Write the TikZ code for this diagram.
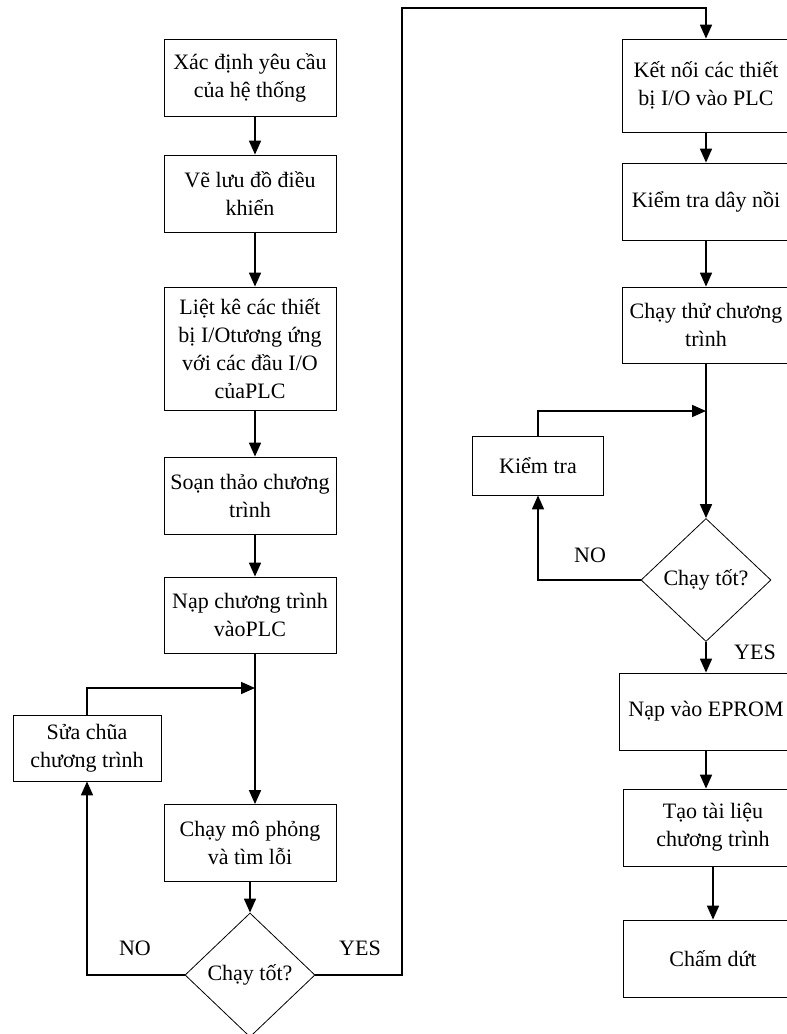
\documentclass[tikz,border=0pt]{standalone}
\usepackage{fontspec}
\setmainfont{Liberation Serif}
\usetikzlibrary{arrows.meta,shapes.geometric}

\tikzset{
  box/.style={draw, line width=0.8pt, align=center, inner sep=2pt,
    minimum width=172pt, minimum height=77pt},
  decision/.style={draw, diamond, line width=0.8pt, inner sep=0pt,
    minimum width=130pt, minimum height=124pt},
  flow/.style={->, line width=1.7pt},
  lbl/.style={inner sep=0pt}
}

\begin{document}
\begin{tikzpicture}[x=1pt, y=-1pt, >={Triangle[length=14pt,width=12pt]},
    font=\fontsize{22}{28}\selectfont]
            \useasboundingbox (0,0) rectangle (787,1034);
            % left column
            \node[box] (req) at (250, 78) {Xác định yêu cầu\\của hệ thống};
            \node[box] (chart) at (250, 193.5) {Vẽ lưu đồ điều\\khiển};
            \node[box, minimum height=123pt] (list) at (250, 348.5) {Liệt kê các thiết\\bị I/Otương ứng\\với các đầu I/O\\củaPLC};
            \node[box] (write) at (250, 495.5) {Soạn thảo chương\\trình};
            \node[box, minimum height=76pt] (load) at (250, 615) {Nạp chương trình\\vàoPLC};
            \node[box, minimum width=148pt, minimum height=66pt] (fix) at (87, 748) {Sửa chũa\\chương trình};
            \node[box] (sim) at (250, 843) {Chạy mô phỏng\\và tìm lỗi};
            \node[decision] (good1) at (250, 975) {Chạy tốt?};
            \coordinate (spineL) at (255, 0);
            \coordinate (joinL) at (255, 688);
            \coordinate (topL) at (402, 8);
            % right column
            \node[box, minimum width=168pt, minimum height=93pt] (wire) at (706, 85.5) {Kết nối các thiết\\bị I/O vào PLC};
            \node[box, minimum width=168pt] (check) at (706, 201.5) {Kiểm tra dây nồi};
            \node[box, minimum width=168pt, minimum height=76pt] (trial) at (706, 325) {Chạy thử chương\\trình};
            \node[box, minimum width=131pt, minimum height=59pt] (test) at (538, 465.5) {Kiểm tra};
            \node[decision, minimum height=123pt] (good2) at (706, 580) {Chạy tốt?};
            \node[box, minimum width=174pt] (eprom) at (706, 711.5) {Nạp vào EPROM};
            \node[box, minimum width=180pt] (docs) at (713, 827.5) {Tạo tài liệu\\chương trình};
            \node[box, minimum width=180pt] (stop) at (713, 958.5) {Chấm dứt};
            \coordinate (joinR) at (706, 411);
            % labels
            \node[lbl] (noL) at (135, 948) {NO};
            \node[lbl] (yesL) at (360, 948) {YES};
            \node[lbl] (noR) at (590, 555) {NO};
            \node[lbl] (yesR) at (755, 652) {YES};
            % connectors
            \draw[flow] (req.south -| spineL) -- (chart.north -| spineL);
            \draw[flow] (chart.south -| spineL) -- (list.north -| spineL);
            \draw[flow] (list.south -| spineL) -- (write.north -| spineL);
            \draw[flow] (write.south -| spineL) -- (load.north -| spineL);
            \draw[flow] (load.south -| spineL) -- (sim.north -| spineL);
            \draw[flow] (fix.north) |- (joinL);
            \draw[flow] (sim) -- (good1);
            \draw[flow] (good1.west) -| (fix.south);
            \draw[flow] (good1.east) -| (topL) -| (wire.north);
            \draw[flow] (wire) -- (check);
            \draw[flow] (check) -- (trial);
            \draw[flow] (trial) -- (good2);
            \draw[flow] (test.north) |- (joinR);
            \draw[flow] (good2.west) -| (test.south);
            \draw[flow] (good2) -- (eprom);
            \draw[flow] (eprom.south) -- (eprom.south |- docs.north);
            \draw[flow] (docs) -- (stop);
          \end{tikzpicture}
\end{document}
